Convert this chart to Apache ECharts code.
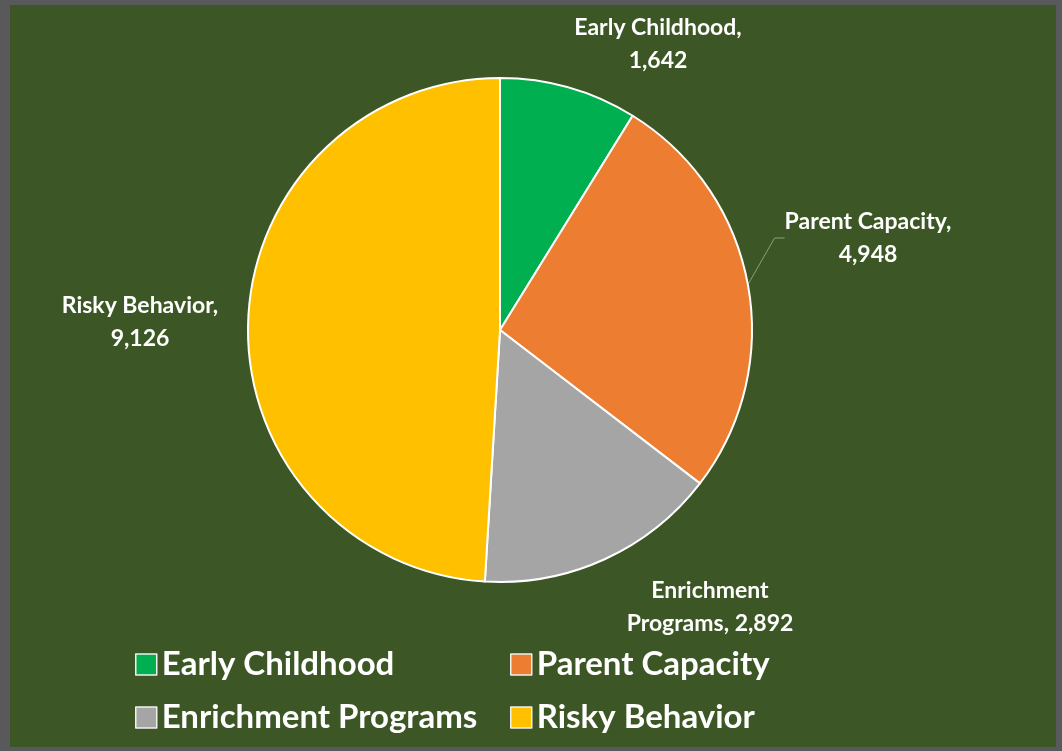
<!DOCTYPE html>
<html>
<head>
<meta charset="utf-8">
<script src="https://cdn.jsdelivr.net/npm/echarts@6/dist/echarts.min.js"></script>
<style>
  html, body { margin: 0; padding: 0; background: #59595b; }
  #chart { position: absolute; left: 10px; top: 5px; width: 1046px; height: 742px; }
</style>
</head>
<body>
<div id="chart"></div>
<script>
  // chart data
  var categories = ['Early Childhood', 'Parent Capacity', 'Enrichment Programs', 'Risky Behavior'];
  var values = [1642, 4948, 2892, 9126];
  var colors = ['#00b050', '#ed7d31', '#a5a5a5', '#ffc000'];

  // where each data label sits (centre of the text block)
  var labelSpots = [[648, 39], [858, 233], [700, 602], [130, 317]];
  var legendSpots = [[125, 643], [500, 643], [125, 696], [500, 696]];

  var font = 'Lato, "Open Sans", sans-serif';

  function fmt(n) {
    return n.toString().replace(/\B(?=(\d{3})+(?!\d))/g, ',');
  }

  var chart = echarts.init(document.getElementById('chart'));

  var legends = categories.map(function(name, i) {
    return {
      data: [name],
      left: legendSpots[i][0],
      top: legendSpots[i][1],
      padding: 0,
      itemWidth: 21,
      itemHeight: 21,
      itemGap: 10,
      icon: 'rect',
      selectedMode: false,
      itemStyle: { borderColor: '#f0f0f0', borderWidth: 1.5 },
      textStyle: { color: '#ffffff', fontSize: 33, fontWeight: 'bold', fontFamily: font }
    };
  });

  var option = {
    backgroundColor: '#3c5725',
    animation: false,
    legend: legends,
    series: [{
      type: 'pie',
      center: [490, 325],
      radius: 252,
      startAngle: 90,
      clockwise: true,
      itemStyle: { borderColor: '#ffffff', borderWidth: 2 },
      label: {
        show: true,
        position: 'outside',
        color: '#ffffff',
        fontSize: 23,
        fontWeight: 'bold',
        fontFamily: font,
        lineHeight: 33,
        align: 'center',
        formatter: function(p) {
          if (p.name === 'Enrichment Programs') {
            return 'Enrichment\nPrograms, ' + fmt(p.value);
          }
          return p.name + ',\n' + fmt(p.value);
        }
      },
      labelLine: { show: false, lineStyle: { color: '#8f9c80', width: 1 } },
      labelLayout: function(params) {
        var s = labelSpots[params.dataIndex];
        return { x: s[0], y: s[1], align: 'center', verticalAlign: 'middle' };
      },
      data: categories.map(function(name, i) {
        var d = { name: name, value: values[i], itemStyle: { color: colors[i] } };
        if (i === 1) {
          d.labelLine = { show: true, length: 10, length2: 10 };
        }
        return d;
      })
    }]
  };

  chart.setOption(option);
</script>
</body>
</html>
